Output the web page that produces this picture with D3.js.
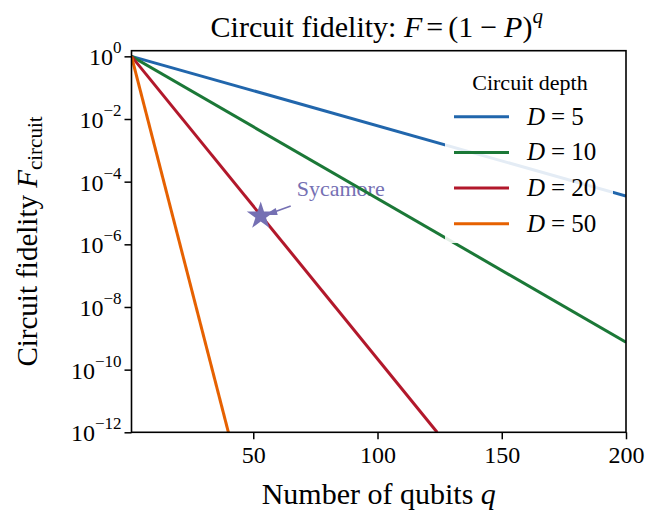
<!DOCTYPE html>
<html lang="en">
<head>
  <meta charset="utf-8">
  <title>Circuit fidelity</title>
  <script src="https://d3js.org/d3.v7.min.js"></script>
  <style>
    body { margin: 0; background: #fff; }
    text { font-family: "Liberation Serif", "DejaVu Serif", serif; fill: #000; }
  </style>
</head>
<body>
  <svg id="chart" width="659" height="515"></svg>

  <script>
    // values
    const depths = [5, 10, 20, 50];
    const lineQubits = [[1, 200], [1, 200], [1, 124], [1, 40]];
    const lineFidelity = [[1, 3.5e-5], [1, 7.5e-10], [1, 1e-12], [1, 1e-12]];
    const sycamoreQubits = 53;
    const sycamoreFidelity = 8e-6;
    const xTicks = [50, 100, 150, 200];
    const yTickExponents = [0, -2, -4, -6, -8, -10, -12];

    const colors = ["#2166ac", "#1b7837", "#b2182b", "#e66101"];
    const starColor = "#7570b3";

    const margin = { left: 131.5, right: 33, top: 50.7, bottom: 82.7 };
    const width = 659, height = 515;
    const svg = d3.select("#chart");

    const x = d3.scaleLinear().domain([1, 200]).range([margin.left, width - margin.right]);
    const y = d3.scaleLog().domain([1e-12, Math.pow(10, 0.18)]).range([height - margin.bottom, margin.top]);

    svg.append("defs").append("clipPath").attr("id", "plotClip")
      .append("rect")
      .attr("x", x.range()[0]).attr("y", y.range()[1])
      .attr("width", x.range()[1] - x.range()[0])
      .attr("height", y.range()[0] - y.range()[1]);

    const sx = x(sycamoreQubits), sy = y(sycamoreFidelity);

    // Sycamore label (under the lines)
    svg.append("text")
      .attr("x", sx + 36).attr("y", sy - 20)
      .attr("font-size", 22).style("fill", starColor)
      .text("Sycamore");

    const line = d3.line().x(d => x(d[0])).y(d => y(d[1]));
    const plot = svg.append("g").attr("clip-path", "url(#plotClip)");

    depths.forEach((D, i) => {
      const pts = lineQubits[i].map((q, j) => [q, lineFidelity[i][j]]);
      plot.append("path")
        .attr("d", line(pts))
        .attr("fill", "none")
        .attr("stroke", colors[i])
        .attr("stroke-width", 3);
    });

    // arrow from label to star
    svg.append("line")
      .attr("x1", sx + 30).attr("y1", sy - 10)
      .attr("x2", sx + 8).attr("y2", sy - 2)
      .attr("stroke", starColor).attr("stroke-width", 1.8);
    svg.append("path")
      .attr("d", `M${sx + 4},${sy - 1} L${sx + 15},${sy - 8} L${sx + 17},${sy - 1} Z`)
      .attr("fill", starColor);

    svg.append("path")
      .attr("d", d3.symbol().type(d3.symbolStar).size(240)())
      .attr("transform", `translate(${sx},${sy})`)
      .attr("fill", starColor);

    // legend
    const legend = svg.append("g");
    legend.append("rect")
      .attr("x", 445).attr("y", 62).attr("width", 168).attr("height", 181)
      .attr("rx", 4).attr("fill", "#fff").attr("fill-opacity", 0.88);
    legend.append("text")
      .attr("x", 530).attr("y", 90).attr("text-anchor", "middle")
      .attr("font-size", 22).text("Circuit depth");
    depths.forEach((D, i) => {
      const ly = 116.7 + i * 35.7;
      legend.append("line")
        .attr("x1", 454).attr("x2", 509).attr("y1", ly).attr("y2", ly)
        .attr("stroke", colors[i]).attr("stroke-width", 3);
      const t = legend.append("text").attr("x", 527).attr("y", ly + 8).attr("font-size", 25);
      t.append("tspan").attr("font-style", "italic").text("D");
      t.append("tspan").attr("dx", 6).text("=");
      t.append("tspan").attr("dx", 6).text(D);
    });

    // frame
    svg.append("rect")
      .attr("x", x.range()[0]).attr("y", y.range()[1])
      .attr("width", x.range()[1] - x.range()[0])
      .attr("height", y.range()[0] - y.range()[1])
      .attr("fill", "none").attr("stroke", "#000").attr("stroke-width", 1.6);

    // x axis
    const xAxis = svg.append("g")
      .attr("transform", `translate(0,${y.range()[0]})`)
      .call(d3.axisBottom(x).tickValues(xTicks).tickSize(7).tickPadding(7));
    xAxis.select(".domain").remove();
    xAxis.selectAll(".tick line").attr("stroke-width", 1.5);
    xAxis.selectAll(".tick text")
      .attr("font-size", 24).style("font-family", "Liberation Serif").attr("fill", "#000");

    // y axis
    const yAxis = svg.append("g")
      .attr("transform", `translate(${x.range()[0]},0)`)
      .call(d3.axisLeft(y).tickValues(yTickExponents.map(e => Math.pow(10, e))).tickSize(7).tickFormat(""));
    yAxis.select(".domain").remove();
    yAxis.selectAll(".tick line").attr("stroke-width", 1.5);

    yTickExponents.forEach(e => {
      const t = svg.append("text")
        .attr("x", x.range()[0] - 10).attr("y", y(Math.pow(10, e)) + 9)
        .attr("text-anchor", "end").attr("font-size", 24);
      t.append("tspan").text("10");
      t.append("tspan").attr("dy", -12).attr("font-size", 17)
        .text(e < 0 ? "\u2212" + Math.abs(e) : String(e));
    });

    // axis labels
    const xl = svg.append("text")
      .attr("x", (x.range()[0] + x.range()[1]) / 2).attr("y", 504)
      .attr("text-anchor", "middle").attr("font-size", 30);
    xl.append("tspan").text("Number of qubits ");
    xl.append("tspan").attr("font-style", "italic").text("q");

    const yl = svg.append("text")
      .attr("transform", `translate(37,${(y.range()[0] + y.range()[1]) / 2}) rotate(-90)`)
      .attr("text-anchor", "middle").attr("font-size", 29);
    yl.append("tspan").text("Circuit fidelity ");
    yl.append("tspan").attr("font-style", "italic").text("F");
    yl.append("tspan").attr("dy", 5).attr("font-size", 21).text("circuit");

    // title
    const title = svg.append("text")
      .attr("x", (x.range()[0] + x.range()[1]) / 2 - 2).attr("y", 37)
      .attr("text-anchor", "middle").attr("font-size", 30);
    title.append("tspan").text("Circuit fidelity: ");
    title.append("tspan").attr("font-style", "italic").text("F");
    title.append("tspan").attr("dx", 4).text("=");
    title.append("tspan").attr("dx", 5).text("(1");
    title.append("tspan").attr("dx", 7).text("\u2212");
    title.append("tspan").attr("dx", 7).attr("font-style", "italic").text("P");
    title.append("tspan").text(")");
    title.append("tspan").attr("dy", -14).attr("font-size", 21).attr("font-style", "italic").text("q");
  </script>
</body>
</html>
